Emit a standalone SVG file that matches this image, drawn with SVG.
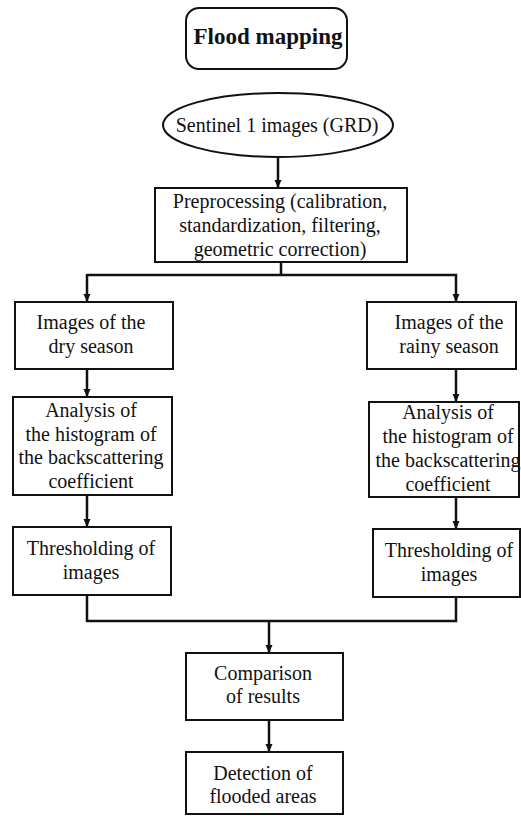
<svg xmlns="http://www.w3.org/2000/svg" width="521" height="816" viewBox="0 0 521 816">
<style>
.box{fill:#fff;stroke:#111;stroke-width:2}
text{font-family:'Liberation Serif','DejaVu Serif','Times New Roman',serif;font-size:20px;fill:#111;text-anchor:middle}
.b{font-weight:bold;font-size:23px}
.c{fill:none;stroke:#111;stroke-width:2.5}
</style>
<defs>
<marker id="ah" markerWidth="8" markerHeight="8" refX="7" refY="4" orient="auto" markerUnits="userSpaceOnUse">
<path d="M0,0.5 L8,4 L0,7.5 Z" fill="#111"/>
</marker>
</defs>
<rect width="521" height="816" fill="#fff"/>
<g id="connectors">
<line class="c" x1="278" y1="157" x2="278" y2="187" marker-end="url(#ah)"/>
<polyline class="c" points="281,262 281,275"/>
<polyline class="c" points="87,275 456,275 456,301" marker-end="url(#ah)"/>
<line class="c" x1="87" y1="274" x2="87" y2="301" marker-end="url(#ah)"/>
<line class="c" x1="87" y1="369" x2="87" y2="396" marker-end="url(#ah)"/>
<line class="c" x1="87" y1="495" x2="87" y2="526" marker-end="url(#ah)"/>
<line class="c" x1="456" y1="369" x2="456" y2="401" marker-end="url(#ah)"/>
<line class="c" x1="456" y1="497" x2="456" y2="528" marker-end="url(#ah)"/>
<polyline class="c" points="87,595 87,621 456,621 456,597"/>
<line class="c" x1="269" y1="621" x2="269" y2="652" marker-end="url(#ah)"/>
<line class="c" x1="269" y1="720" x2="269" y2="751" marker-end="url(#ah)"/>
</g>
<g id="title">
<rect class="box" x="186" y="8" width="161" height="61" rx="13"/>
<text class="b" x="268" y="44" font-family="Liberation Serif, serif">Flood mapping</text>
</g>
<g id="sentinel">
<ellipse class="box" cx="278" cy="125" rx="115" ry="32"/>
<text x="277" y="132" font-family="Liberation Serif, serif">Sentinel 1 images (GRD)</text>
</g>
<g id="preprocessing" font-family="Liberation Serif, serif">
<rect class="box" x="155" y="188" width="252" height="74"/>
<text x="280" y="208">Preprocessing (calibration,</text>
<text x="280" y="232">standardization, filtering,</text>
<text x="280" y="256">geometric correction)</text>
</g>
<g id="dry">
<rect class="box" x="15" y="302" width="158" height="67"/>
<text x="91" y="329">Images of the</text>
<text x="91" y="353">dry season</text>
</g>
<g id="analysis-dry">
<rect class="box" x="13" y="397" width="159" height="98"/>
<text x="91" y="417">Analysis of</text>
<text x="91" y="441">the histogram of</text>
<text x="91" y="464">the backscattering</text>
<text x="91" y="488">coefficient</text>
</g>
<g id="threshold-dry">
<rect class="box" x="13" y="527" width="158" height="68"/>
<text x="91" y="555">Thresholding of</text>
<text x="91" y="579">images</text>
</g>
<g id="rainy">
<rect class="box" x="367" y="302" width="149" height="67"/>
<text x="449" y="329">Images of the</text>
<text x="449" y="353">rainy season</text>
</g>
<g id="analysis-rainy">
<rect class="box" x="369" y="402" width="150" height="95"/>
<text x="448" y="419">Analysis of</text>
<text x="448" y="443">the histogram of</text>
<text x="448" y="467">the backscattering</text>
<text x="448" y="491">coefficient</text>
</g>
<g id="threshold-rainy">
<rect class="box" x="373" y="529" width="147" height="68"/>
<text x="449" y="557">Thresholding of</text>
<text x="449" y="581">images</text>
</g>
<g id="comparison">
<rect class="box" x="186" y="653" width="157" height="67"/>
<text x="263" y="680">Comparison</text>
<text x="263" y="703">of results</text>
</g>
<g id="detection">
<rect class="box" x="186" y="752" width="157" height="62"/>
<text x="263" y="780">Detection of</text>
<text x="263" y="803">flooded areas</text>
</g>
</svg>
